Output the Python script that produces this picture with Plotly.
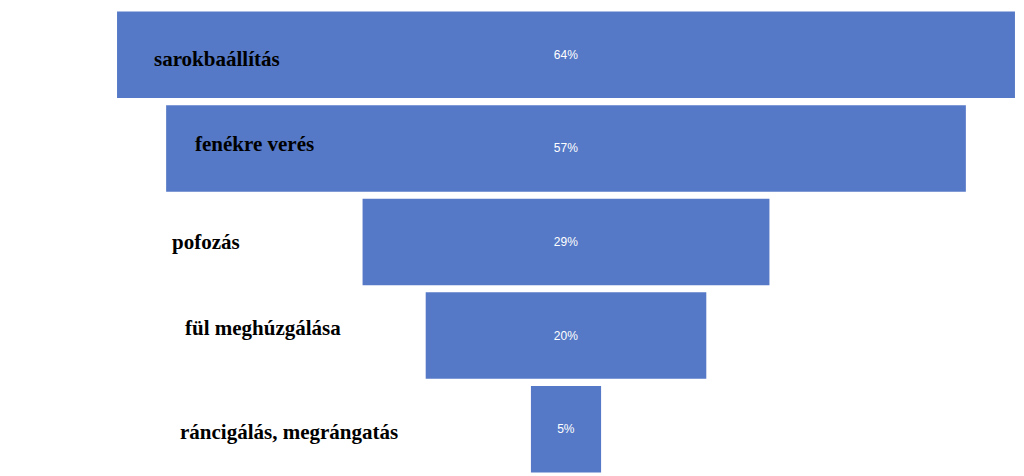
import plotly.graph_objects as go

categories = ["sarokbaállítás", "fenékre verés", "pofozás", "fül meghúzgálása", "ráncigálás, megrángatás"]
values = [64, 57, 29, 20, 5]
label_px = [152, 193, 170, 183, 178]
label_dy = [0.05, -0.05, 0.0, -0.08, 0.03]

L, W = 100, 916
fig = go.Figure(go.Funnel(
    y=categories, x=values,
    text=[f"{v}%" for v in values], textinfo="text", textposition="inside",
    textfont=dict(color="white", size=12, family="Liberation Sans"),
    marker=dict(color="#5579C6"), connector=dict(visible=False),
    insidetextanchor="middle", hoverinfo="skip",
))
half = W / 2 / 14.03
fig.update_layout(
    width=1024, height=476, margin=dict(l=L, r=8, t=0, b=8),
    paper_bgcolor="white", plot_bgcolor="white", showlegend=False,
    funnelgap=0.076,
    xaxis=dict(range=[-half, half], visible=False),
    yaxis=dict(visible=False, autorange="reversed"),
)
for i, (c, px) in enumerate(zip(categories, label_px)):
    fig.add_annotation(x=(px - 8 - L) / W, xref="paper", y=i + label_dy[i], yref="y",
                       text=f"<b>{c}</b>", showarrow=False, xanchor="left",
                       font=dict(family="Liberation Serif", size=21, color="black"))
fig.write_html("out.html")
